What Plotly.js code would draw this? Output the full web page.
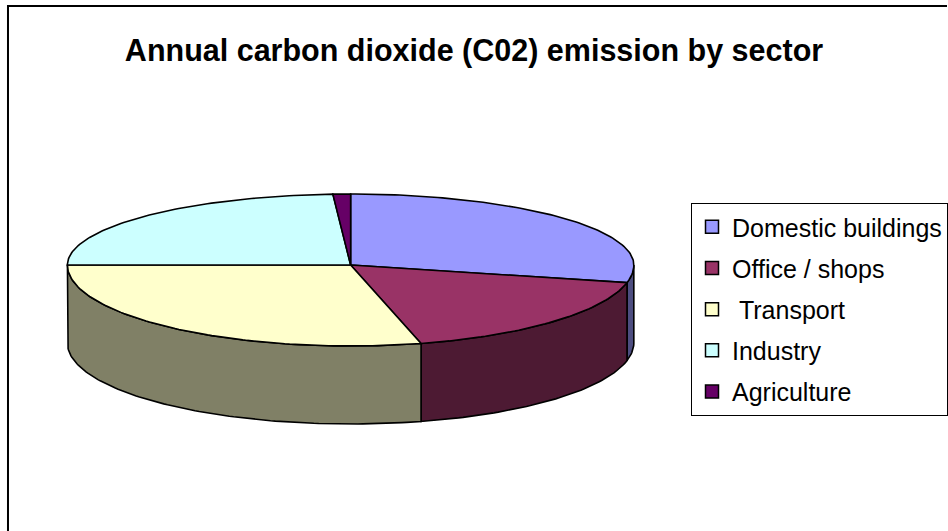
<!DOCTYPE html>
<html>
<head>
<meta charset="utf-8">
<script src="https://cdn.plot.ly/plotly-3.0.1.min.js"></script>
<style>html,body{margin:0;padding:0;background:#fff;}#chart{width:948px;height:531px;}</style>
</head>
<body>
<div id="chart"></div>
<script>
// ---- data ----
const labels = ['Domestic buildings', 'Office / shops', '\u00a0Transport', 'Industry', 'Agriculture'];
const values = [28.5, 17.5, 29, 24, 1];
const topColors = ['#9999FF', '#993366', '#FFFFCC', '#CCFFFF', '#660066'];
const sideColors = ['#4D4D80', '#4D1A33', '#808066', '#668080', '#330033'];

// ---- geometry of the 3-D pie (layout constants, in page pixels) ----
const CX = 351, CY = 265, RX = 283.5, RY_BACK = 71, RY_FRONT = 81, DEPTH = 78;
const START = 270; // 12 o'clock, clockwise in screen coords

function pt(deg, drop) {
  const r = deg * Math.PI / 180;
  const s = Math.sin(r);
  return [CX + RX * Math.cos(r), CY + (s > 0 ? RY_FRONT : RY_BACK) * s + drop];
}
function arc(a0, a1, drop) {
  const xs = [], ys = [];
  const n = Math.max(2, Math.ceil(Math.abs(a1 - a0) / 1));
  for (let i = 0; i <= n; i++) {
    const p = pt(a0 + (a1 - a0) * i / n, drop);
    xs.push(p[0]); ys.push(p[1]);
  }
  return [xs, ys];
}

const total = values.reduce((a, b) => a + b, 0);
const spans = [];
let cum = 0;
values.forEach(v => {
  const a0 = START + cum / total * 360;
  cum += v;
  const a1 = START + cum / total * 360;
  spans.push([a0, a1]);
});

const traces = [];
// side walls (front half only: angles 0..180 or 360..540)
spans.forEach((sp, i) => {
  [[0, 180], [360, 540]].forEach(w => {
    const lo = Math.max(sp[0], w[0]), hi = Math.min(sp[1], w[1]);
    if (hi > lo) {
      const top = arc(lo, hi, 0);
      const bot = arc(hi, lo, DEPTH);
      traces.push({
        type: 'scatter', mode: 'lines', fill: 'toself',
        x: top[0].concat(bot[0], [top[0][0]]),
        y: top[1].concat(bot[1], [top[1][0]]),
        fillcolor: sideColors[i], line: {color: '#000', width: 1.6},
        hoverinfo: 'skip', showlegend: false
      });
    }
  });
});
// top faces
spans.forEach((sp, i) => {
  const a = arc(sp[0], sp[1], 0);
  traces.push({
    type: 'scatter', mode: 'lines', fill: 'toself',
    x: [CX].concat(a[0], [CX]),
    y: [CY].concat(a[1], [CY]),
    fillcolor: topColors[i], line: {color: '#000', width: 1.6},
    name: labels[i], hoverinfo: 'name', showlegend: false
  });
});
// legend entries
labels.forEach((lab, i) => {
  traces.push({
    type: 'scatter', mode: 'markers', x: [null], y: [null],
    name: lab, legendgroup: 'g' + i,
    marker: {symbol: 'square', size: 13, color: topColors[i], line: {color: '#000', width: 1.5}}
  });
});

const layout = {
  width: 948, height: 531,
  margin: {l: 0, r: 0, t: 0, b: 0},
  paper_bgcolor: '#fff', plot_bgcolor: '#fff',
  xaxis: {range: [0, 948], visible: false, fixedrange: true},
  yaxis: {range: [531, 0], visible: false, fixedrange: true},
  showlegend: true,
  title: {
    text: '<b>Annual carbon dioxide (C02) emission by sector</b>',
    font: {family: 'Liberation Sans, Arial, sans-serif', size: 30.5, color: '#000'},
    x: 0.5, xanchor: 'center', y: 1 - 50 / 531, yanchor: 'middle', yref: 'container'
  },
  legend: {
    x: 692 / 948, xanchor: 'left', y: 1 - 203 / 531, yanchor: 'top',
    bgcolor: '#fff', bordercolor: '#000', borderwidth: 1,
    font: {family: 'Liberation Sans, Arial, sans-serif', size: 25, color: '#000'},
    traceorder: 'grouped', tracegroupgap: 5.7, itemclick: false
  },
  shapes: [{
    type: 'rect', xref: 'x', yref: 'y', x0: 8, y0: 6, x1: 1000, y1: 600,
    line: {color: '#000', width: 2}, layer: 'below'
  }]
};

Plotly.newPlot('chart', traces, layout, {displayModeBar: false, staticPlot: true});
</script>
</body>
</html>
